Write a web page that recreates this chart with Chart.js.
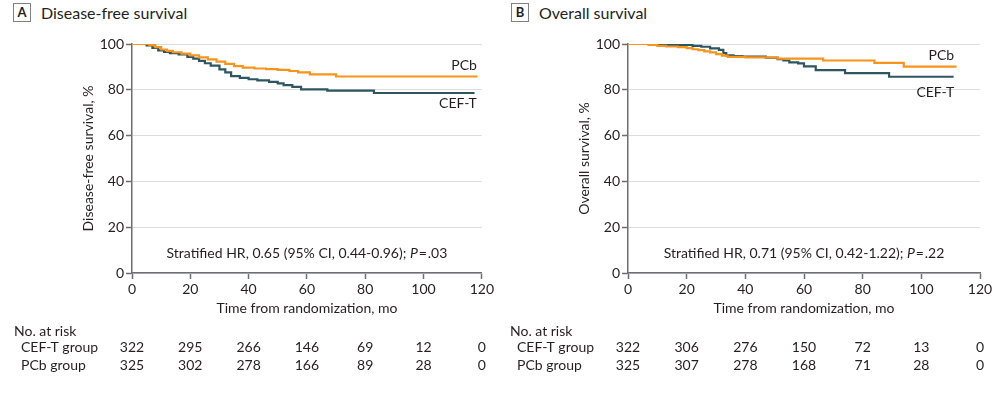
<!DOCTYPE html>
<html>
<head>
<meta charset="utf-8">
<script src="https://cdn.jsdelivr.net/npm/chart.js@4.4.1/dist/chart.umd.min.js"></script>
<style>
  body { margin: 0; background: #fff; width: 1008px; height: 396px; position: relative; overflow: hidden;
         font-family: Lato, "Noto Sans", sans-serif; color: #231f20; }
  canvas { position: absolute; top: 0; }
  .head { position: absolute; top: 3px; font-size: 16px; line-height: 19px; white-space: nowrap; }
  .tag { display: inline-block; box-sizing: border-box; width: 18px; height: 19px; border: 1px solid #808080;
         text-align: center; font-weight: bold; font-size: 13px; line-height: 17px; margin-right: 10px; vertical-align: top; }
</style>
</head>
<body>
<div class="head" style="left:13px"><span class="tag">A</span>Disease-free survival</div>
<div class="head" style="left:511px"><span class="tag">B</span>Overall survival</div>
<canvas id="chartA" width="496" height="396" style="left:0"></canvas>
<canvas id="chartB" width="512" height="396" style="left:496px"></canvas>
<script>
// months on the x axis, also the columns of the at-risk table
const timeTicks = [0, 20, 40, 60, 80, 100, 120];

// A: disease-free survival
const dfsCefTTime = [0, 5, 7, 9, 11, 13, 16, 19, 21, 23, 25, 27, 30, 32, 34, 37, 40, 43, 47, 50, 52, 55, 58, 67, 83, 117.5];
const dfsCefTSurv = [100, 99.4, 98.3, 97.2, 96.5, 96.0, 95.5, 94.4, 93.6, 92.6, 91.6, 90.6, 88.9, 87.6, 86.0, 85.2, 84.6, 84.1, 83.5, 82.8, 82.0, 81.3, 80.2, 79.6, 78.6, 78.6];
const dfsPcbTime = [0, 6, 8, 10, 12, 14, 17, 20, 23, 26, 29, 32, 35, 38, 42, 46, 50, 54, 57, 61, 70, 118.5];
const dfsPcbSurv = [100, 99.5, 98.6, 97.6, 97.0, 96.4, 95.8, 95.0, 94.2, 93.3, 92.3, 91.3, 90.3, 89.7, 89.3, 89.0, 88.7, 88.2, 87.6, 86.7, 85.8, 85.8];

// B: overall survival
const osCefTTime = [0, 10, 22, 25, 28, 31, 32.5, 33.5, 36, 39, 47, 51, 53, 55, 58, 60, 64, 74, 89, 111];
const osCefTSurv = [100, 99.6, 99.2, 98.8, 98.1, 97.4, 96.0, 95.0, 94.7, 94.5, 94.0, 93.4, 92.8, 92.0, 91.5, 90.2, 88.6, 87.3, 85.7, 85.7];
const osPcbTime = [0, 7, 10, 13, 17, 20, 22, 24, 26, 28, 30, 32, 34, 40, 51, 66.5, 84, 94, 112];
const osPcbSurv = [100, 99.6, 99.2, 98.9, 98.6, 98.2, 97.7, 97.3, 96.8, 96.3, 95.6, 94.9, 94.4, 94.2, 93.6, 92.8, 91.8, 90.1, 90.1];

// No. at risk
const dfsRiskCefT = [322, 295, 266, 146, 69, 12, 0];
const dfsRiskPcb  = [325, 302, 278, 166, 89, 28, 0];
const osRiskCefT  = [322, 306, 276, 150, 72, 13, 0];
const osRiskPcb   = [325, 307, 278, 168, 71, 28, 0];

const FONT = 'Lato, "Noto Sans", sans-serif';
const TXT = '#231f20';
const AXIS = '#6d6e71';
const ORANGE = '#f7941d';
const TEAL = '#2d5661';

function pts(t, s) { return t.map((v, i) => ({ x: v, y: s[i] })); }

// draws line labels, HR text and the at-risk table
const extras = {
  id: 'extras',
  afterDraw(chart) {
    const o = chart.options.plugins.extras;
    const { ctx, chartArea } = chart;
    const xs = chart.scales.x, ys = chart.scales.y;
    ctx.save();
    ctx.fillStyle = TXT;
    ctx.font = '14px ' + FONT;
    ctx.textBaseline = 'middle';

    ctx.textAlign = 'right';
    o.lineLabels.forEach(l => ctx.fillText(l.text, xs.getPixelForValue(l.x), ys.getPixelForValue(l.y)));

    // HR text with italic P
    const parts = [[o.hr, '14px ' + FONT], ['P', 'italic 14px ' + FONT], [o.p, '14px ' + FONT]];
    let w = 0;
    parts.forEach(p => { ctx.font = p[1]; w += ctx.measureText(p[0]).width; });
    let x = (chartArea.left + chartArea.right) / 2 - w / 2;
    ctx.textAlign = 'left';
    parts.forEach(p => { ctx.font = p[1]; ctx.fillText(p[0], x, chartArea.bottom - 20); x += ctx.measureText(p[0]).width; });

    // at-risk table
    ctx.font = '14px ' + FONT;
    ctx.fillText('No. at risk', 14, 331);
    ctx.fillText('CEF-T group', 21, 347);
    ctx.fillText('PCb group', 21, 365);
    ctx.textAlign = 'center';
    timeTicks.forEach((t, i) => {
      const px = xs.getPixelForValue(t);
      ctx.fillText(String(o.riskA[i]), px, 347);
      ctx.fillText(String(o.riskB[i]), px, 365);
    });
    ctx.restore();
  }
};

function makePanel(id, padRight, yTitle, cefT, pcb, riskA, riskB, hr, p, lineLabels) {
  return new Chart(document.getElementById(id), {
    type: 'line',
    data: {
      datasets: [
        { label: 'PCb', data: pcb, borderColor: ORANGE, borderWidth: 2.2, stepped: true, pointRadius: 0, fill: false },
        { label: 'CEF-T', data: cefT, borderColor: TEAL, borderWidth: 2.2, stepped: true, pointRadius: 0, fill: false }
      ]
    },
    options: {
      responsive: false,
      animation: false,
      events: [],
      layout: { padding: { top: 44, right: padRight, bottom: 73, left: 0 } },
      plugins: {
        legend: { display: false },
        tooltip: { enabled: false },
        extras: { riskA, riskB, hr, p, lineLabels }
      },
      scales: {
        x: {
          type: 'linear', min: 0, max: 120,
          afterBuildTicks: s => { s.ticks = timeTicks.map(v => ({ value: v })); },
          afterFit: s => { s.height = 50; },
          border: { color: AXIS, width: 1.5 },
          grid: { drawOnChartArea: false, drawTicks: true, tickLength: 6, tickColor: AXIS, tickWidth: 1.5 },
          ticks: { color: TXT, font: { family: FONT, size: 14 }, padding: 2, maxRotation: 0 },
          title: { display: true, text: 'Time from randomization, mo', color: TXT,
                   font: { family: FONT, size: 14 }, padding: { top: 0, bottom: 6 } }
        },
        y: {
          min: 0, max: 100,
          afterFit: s => { s.width = 132; },
          border: { color: AXIS, width: 1.5 },
          grid: { color: '#dcdddf', lineWidth: 1, tickLength: 6, tickColor: AXIS, tickWidth: 1.5 },
          ticks: { stepSize: 20, color: TXT, font: { family: FONT, size: 14 }, padding: 2 },
          title: { display: true, text: yTitle, color: TXT,
                   font: { family: FONT, size: 14 }, padding: { top: 80, bottom: 0 } }
        }
      }
    },
    plugins: [extras]
  });
}

makePanel('chartA', 12, 'Disease-free survival, %',
  pts(dfsCefTTime, dfsCefTSurv), pts(dfsPcbTime, dfsPcbSurv), dfsRiskCefT, dfsRiskPcb,
  'Stratified HR, 0.65 (95% CI, 0.44-0.96); ', '\u200A=\u200A.03',
  [{ text: 'PCb', x: 118.3, y: 90.8 }, { text: 'CEF-T', x: 118.3, y: 74 }]);

makePanel('chartB', 28, 'Overall survival, %',
  pts(osCefTTime, osCefTSurv), pts(osPcbTime, osPcbSurv), osRiskCefT, osRiskPcb,
  'Stratified HR, 0.71 (95% CI, 0.42-1.22); ', '\u200A=\u200A.22',
  [{ text: 'PCb', x: 111.2, y: 94.8 }, { text: 'CEF-T', x: 111.2, y: 79 }]);
</script>
</body>
</html>
